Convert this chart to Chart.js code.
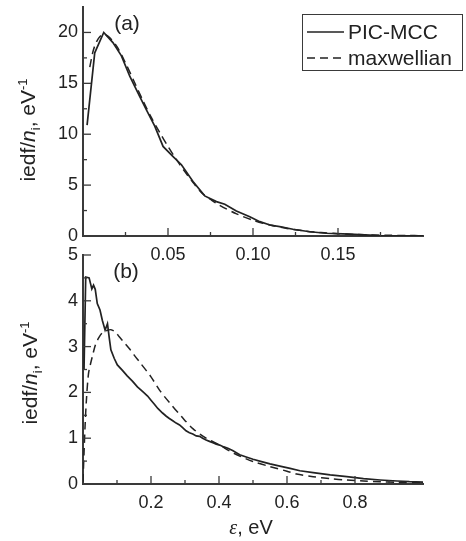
<!DOCTYPE html>
<html>
<head>
<meta charset="utf-8">
<script src="https://cdn.jsdelivr.net/npm/chart.js@4.4.0/dist/chart.umd.min.js"></script>
<style>
  html, body { margin: 0; padding: 0; background: #fff; }
  #wrap { position: relative; width: 466px; height: 541px; font-family: "Liberation Sans", Arial, sans-serif; color: #222; }
  #wrap canvas { position: absolute; left: 0; top: 0; }
  .txt { position: absolute; white-space: nowrap; line-height: 1; }
  .ytitle { font-size: 21px; transform: translate(-50%, -50%) rotate(-90deg); }
  .ytitle sub, .ytitle sup { font-size: 13px; }
  .panel { font-size: 21px; transform: translate(-50%, -50%); }
  .xtitle { font-size: 20px; transform: translate(-50%, -50%); }
  .eps { font-family: "Liberation Serif", "DejaVu Serif", serif; font-style: italic; }
</style>
</head>
<body>
<div id="wrap">
  <canvas id="chartB" width="466" height="541"></canvas>
  <canvas id="chartA" width="466" height="541"></canvas>
  <div class="txt panel" style="left:127px;top:22px;">(a)</div>
  <div class="txt panel" style="left:126px;top:270px;">(b)</div>
  <div class="txt ytitle" style="left:29px;top:130px;">iedf/<i>n</i><sub>i</sub>, eV<sup>-1</sup></div>
  <div class="txt ytitle" style="left:31px;top:373px;">iedf/<i>n</i><sub>i</sub>, eV<sup>-1</sup></div>
  <div class="txt xtitle" style="left:251px;top:527px;"><span class="eps">ε</span>, eV</div>
</div>
<script>
// ===== Panel (a) data =====
const aPicX = [0.0024, 0.0069, 0.0122, 0.0176, 0.0226, 0.0275, 0.0334, 0.0373, 0.0422, 0.0471, 0.0530, 0.0579, 0.0647, 0.0716, 0.0785, 0.0834, 0.0902, 0.0981, 0.1040, 0.1100, 0.1157, 0.1235, 0.1334, 0.1430, 0.1530, 0.1630, 0.1745, 0.2000];
const aPicY = [10.9, 18.0, 20.0, 19.0, 17.7, 15.7, 13.7, 12.4, 10.8, 8.8, 7.8, 7.0, 5.35, 3.94, 3.38, 3.12, 2.46, 1.9, 1.41, 1.08, 0.92, 0.66, 0.42, 0.27, 0.2, 0.13, 0.05, 0.02];
const aMaxX = [0.004, 0.006, 0.008, 0.010, 0.012, 0.015, 0.020, 0.025, 0.030, 0.035, 0.040, 0.045, 0.050, 0.055, 0.060, 0.065, 0.070, 0.075, 0.080, 0.090, 0.100, 0.110, 0.120, 0.130, 0.140, 0.150, 0.160, 0.170, 0.180, 0.190, 0.200];
const aMaxY = [16.6, 18.2, 19.1, 19.6, 19.8, 19.6, 18.6, 17.0, 15.2, 13.4, 11.7, 10.2, 8.8, 7.5, 6.3, 5.2, 4.2, 3.6, 3.05, 2.2, 1.55, 1.08, 0.74, 0.5, 0.34, 0.23, 0.15, 0.10, 0.07, 0.05, 0.03];
const aXTicks = [0.05, 0.10, 0.15];
const aXLabels = ['0.05', '0.10', '0.15'];
const aXMinor = [0.025, 0.075, 0.125, 0.175];
const aYTicks = [0, 5, 10, 15, 20];
const aYLabels = ['0', '5', '10', '15', '20'];
const aYMinor = [2.5, 7.5, 12.5, 17.5];

// ===== Panel (b) data =====
const bPicX = [0.003, 0.008, 0.018, 0.026, 0.031, 0.036, 0.042, 0.050, 0.057, 0.065, 0.072, 0.077, 0.082, 0.092, 0.101, 0.116, 0.130, 0.146, 0.160, 0.175, 0.190, 0.200, 0.210, 0.220, 0.234, 0.245, 0.254, 0.264, 0.274, 0.284, 0.293, 0.303, 0.313, 0.323, 0.333, 0.343, 0.352, 0.362, 0.372, 0.382, 0.392, 0.402, 0.414, 0.426, 0.440, 0.461, 0.480, 0.500, 0.525, 0.550, 0.579, 0.609, 0.638, 0.677, 0.727, 0.776, 0.825, 0.874, 0.924, 0.960, 1.000];
const bPicY = [2.5, 4.52, 4.5, 4.26, 4.34, 4.25, 3.94, 3.8, 3.57, 3.36, 3.5, 3.2, 2.93, 2.74, 2.6, 2.48, 2.36, 2.24, 2.12, 2.02, 1.92, 1.83, 1.74, 1.65, 1.55, 1.48, 1.43, 1.38, 1.33, 1.29, 1.23, 1.16, 1.12, 1.09, 1.05, 1.04, 1.0, 0.96, 0.93, 0.9, 0.87, 0.85, 0.81, 0.78, 0.73, 0.64, 0.59, 0.54, 0.49, 0.44, 0.39, 0.34, 0.29, 0.25, 0.2, 0.16, 0.116, 0.087, 0.065, 0.05, 0.04];
const bMaxX = [0.0, 0.003, 0.006, 0.010, 0.016, 0.022, 0.028, 0.037, 0.047, 0.057, 0.070, 0.082, 0.095, 0.106, 0.120, 0.136, 0.150, 0.170, 0.200, 0.225, 0.254, 0.289, 0.323, 0.362, 0.402, 0.431, 0.461, 0.500, 0.550, 0.600, 0.628, 0.677, 0.727, 0.776, 0.825, 0.874, 0.924, 1.000];
const bMaxY = [0.05, 0.67, 1.25, 1.83, 2.4, 2.62, 2.8, 3.05, 3.2, 3.3, 3.35, 3.37, 3.32, 3.22, 3.1, 2.96, 2.82, 2.63, 2.34, 2.05, 1.78, 1.48, 1.21, 1.0, 0.85, 0.72, 0.61, 0.49, 0.38, 0.28, 0.22, 0.16, 0.116, 0.087, 0.065, 0.05, 0.035, 0.03];
const bXTicks = [0.2, 0.4, 0.6, 0.8];
const bXLabels = ['0.2', '0.4', '0.6', '0.8'];
const bXMinor = [0.1, 0.3, 0.5, 0.7, 0.9];
const bYTicks = [0, 1, 2, 3, 4, 5];
const bYLabels = ['0', '1', '2', '3', '4', '5'];
const bYMinor = [0.5, 1.5, 2.5, 3.5, 4.5];

const seriesNames = ['PIC-MCC', 'maxwellian'];

const INK = '#222';
const AXIS = '#3a3a3a';
const tickFont = { family: 'Liberation Sans', size: 18 };

const pts = (xs, ys) => xs.map((x, i) => ({ x, y: ys[i] }));

// ===== Plugins =====
// inward tick marks, major and minor
const innerTicks = {
  id: 'innerTicks',
  afterDraw(chart, args, o) {
    const { ctx, chartArea, scales } = chart;
    ctx.save();
    ctx.strokeStyle = AXIS;
    ctx.lineWidth = 1.3;
    const mark = (scale, vals, len) => {
      vals.forEach(v => {
        const p = scale.getPixelForValue(v);
        ctx.beginPath();
        if (scale.isHorizontal()) {
          ctx.moveTo(p, chartArea.bottom);
          ctx.lineTo(p, chartArea.bottom - len);
        } else {
          ctx.moveTo(chartArea.left, p);
          ctx.lineTo(chartArea.left + len, p);
        }
        ctx.stroke();
      });
    };
    mark(scales.x, o.xMajor, 8);
    mark(scales.x, o.xMinor, 4);
    mark(scales.y, o.yMajor, 8);
    mark(scales.y, o.yMinor, 4);
    ctx.restore();
  }
};

// legend framed in a box
const boxLegend = {
  id: 'boxLegend',
  afterDraw(chart, args, o) {
    if (!o.show) return;
    const ctx = chart.ctx;
    ctx.save();
    ctx.strokeStyle = AXIS;
    ctx.lineWidth = 1;
    ctx.strokeRect(o.x + 0.5, o.y + 0.5, o.w, o.h);
    ctx.font = '21px "Liberation Sans", Arial, sans-serif';
    ctx.fillStyle = INK;
    ctx.textBaseline = 'middle';
    chart.data.datasets.forEach((ds, i) => {
      const y = o.y + 18 + i * 26;
      ctx.setLineDash(ds.borderDash || []);
      ctx.lineWidth = 1.5;
      ctx.strokeStyle = ds.borderColor;
      ctx.beginPath();
      ctx.moveTo(o.x + 5, y);
      ctx.lineTo(o.x + 42, y);
      ctx.stroke();
      ctx.setLineDash([]);
      ctx.fillText(ds.label, o.x + 46, y + 1);
    });
    ctx.restore();
  }
};

function makeScales(xr, xTicks, xLabels, yr, yTicks, yLabels, xPad) {
  return {
    x: {
      type: 'linear', min: xr[0], max: xr[1],
      grid: { display: false, drawTicks: false },
      border: { display: true, color: AXIS, width: 2 },
      afterBuildTicks: s => { s.ticks = xTicks.map(v => ({ value: v })); },
      afterFit: s => { s.height = 30; s.paddingLeft = 0; s.paddingRight = 0; },
      ticks: { autoSkip: false, maxRotation: 0, padding: xPad, color: INK, font: tickFont,
               callback: (v, i) => xLabels[i] }
    },
    y: {
      type: 'linear', min: yr[0], max: yr[1],
      grid: { display: false, drawTicks: false },
      border: { display: true, color: AXIS, width: 2 },
      afterBuildTicks: s => { s.ticks = yTicks.map(v => ({ value: v })); },
      afterFit: s => { s.width = 83; s.paddingTop = 0; s.paddingBottom = 0; },
      ticks: { autoSkip: false, padding: 5, color: INK, font: tickFont,
               callback: (v, i) => yLabels[i] }
    }
  };
}

function makeChart(id, picX, picY, maxX, maxY, scales, pad, tickOpts, legendOpts) {
  return new Chart(document.getElementById(id), {
    type: 'line',
    data: {
      datasets: [
        { label: seriesNames[0], data: pts(picX, picY), borderColor: INK, borderWidth: 1.7,
          pointRadius: 0, tension: 0, fill: false },
        { label: seriesNames[1], data: pts(maxX, maxY), borderColor: INK, borderWidth: 1.5,
          borderDash: [8, 5], pointRadius: 0, tension: 0.3, fill: false }
      ]
    },
    options: {
      responsive: false,
      animation: false,
      layout: { padding: pad },
      plugins: {
        legend: { display: false },
        tooltip: { enabled: false },
        innerTicks: tickOpts,
        boxLegend: legendOpts
      },
      scales
    },
    plugins: [innerTicks, boxLegend]
  });
}

makeChart('chartA', aPicX, aPicY, aMaxX, aMaxY,
  makeScales([0, 0.2], aXTicks, aXLabels, [0, 22.5], aYTicks, aYLabels, 8),
  { top: 7, right: 43, bottom: 275, left: 0 },
  { xMajor: aXTicks, xMinor: aXMinor, yMajor: aYTicks, yMinor: aYMinor },
  { show: true, x: 302, y: 14, w: 160, h: 56 });

makeChart('chartB', bPicX, bPicY, bMaxX, bMaxY,
  makeScales([0, 1], bXTicks, bXLabels, [0, 5], bYTicks, bYLabels, 8),
  { top: 255, right: 43, bottom: 27, left: 0 },
  { xMajor: bXTicks, xMinor: bXMinor, yMajor: bYTicks, yMinor: bYMinor },
  { show: false });
</script>
</body>
</html>
